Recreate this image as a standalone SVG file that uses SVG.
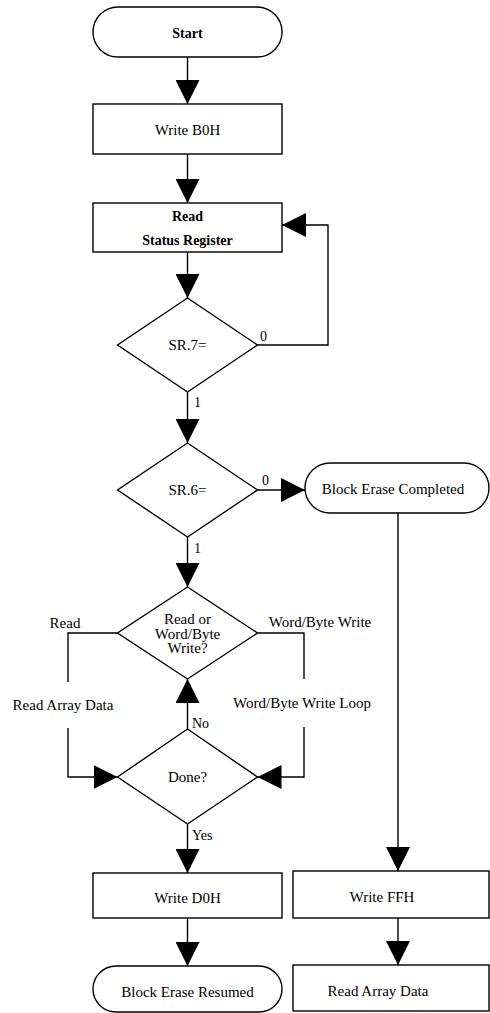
<svg xmlns="http://www.w3.org/2000/svg" width="490" height="1013" viewBox="0 0 490 1013">
<defs>
<style>
.s{fill:#fff;stroke:#000;stroke-width:1.4}
.c{fill:none;stroke:#000;stroke-width:1.4}
text{font-family:"Liberation Serif","Times New Roman",serif;font-size:15px;fill:#000;text-anchor:middle;dominant-baseline:central}
.b{font-weight:bold;font-size:14px}
.l{text-anchor:start;font-size:14px}
</style>
<marker id="ah" viewBox="0 0 24 24" markerWidth="24" markerHeight="24" markerUnits="userSpaceOnUse" refX="24" refY="12" orient="auto">
<path d="M0,0 L24,12 L0,24 Z" fill="#000"/>
</marker>
</defs>
<rect width="490" height="1013" fill="#fff"/>
<g id="connectors">
<line class="c" x1="187.5" y1="57" x2="187.5" y2="104" marker-end="url(#ah)"/>
<line class="c" x1="187.5" y1="154" x2="187.5" y2="203" marker-end="url(#ah)"/>
<line class="c" x1="187.5" y1="252" x2="187.5" y2="298" marker-end="url(#ah)"/>
<polyline class="c" points="257.5,345 328,345 328,225 282,225" marker-end="url(#ah)"/>
<line class="c" x1="187.5" y1="392" x2="187.5" y2="443" marker-end="url(#ah)"/>
<line class="c" x1="257.5" y1="490" x2="305" y2="490" marker-end="url(#ah)"/>
<line class="c" x1="187.5" y1="537" x2="187.5" y2="587" marker-end="url(#ah)"/>
<polyline class="c" points="117.5,633 68,633 68,682"/>
<polyline class="c" points="68,728 68,777 117.5,777" marker-end="url(#ah)"/>
<polyline class="c" points="257.5,633 304,633 304,679"/>
<polyline class="c" points="304,727 304,777 257.5,777" marker-end="url(#ah)"/>
<line class="c" x1="187.5" y1="729" x2="187.5" y2="679" marker-end="url(#ah)"/>
<line class="c" x1="187.5" y1="824" x2="187.5" y2="873" marker-end="url(#ah)"/>
<line class="c" x1="187.5" y1="918" x2="187.5" y2="966" marker-end="url(#ah)"/>
<line class="c" x1="398" y1="513" x2="398" y2="871" marker-end="url(#ah)"/>
<line class="c" x1="398" y1="918" x2="398" y2="965" marker-end="url(#ah)"/>
<text class="l" x="260" y="336">0</text>
<text class="l" x="194" y="402">1</text>
<text class="l" x="262" y="480">0</text>
<text class="l" x="194" y="548">1</text>
<text x="65" y="623">Read</text>
<text x="63" y="705">Read Array Data</text>
<text x="320" y="622">Word/Byte Write</text>
<text x="302" y="703">Word/Byte Write Loop</text>
<text class="l" x="192" y="723">No</text>
<text class="l" x="192" y="835">Yes</text>
</g>
<g id="start"><rect class="s" x="93" y="7" width="189" height="50" rx="25"/><text class="b" x="187.5" y="33">Start</text></g>
<g id="writeB0H"><rect class="s" x="93" y="104" width="189" height="50"/><text x="187.5" y="130">Write B0H</text></g>
<g id="readSR"><rect class="s" x="93" y="203" width="189" height="49"/><text class="b" x="187.5" y="216">Read</text><text class="b" x="187.5" y="240">Status Register</text></g>
<g id="sr7"><polygon class="s" points="187.5,298 257.5,345 187.5,392 117.5,345"/><text x="187.5" y="345">SR.7=</text></g>
<g id="sr6"><polygon class="s" points="187.5,443 257.5,490 187.5,537 117.5,490"/><text x="187.5" y="490">SR.6=</text></g>
<g id="blockEraseCompleted"><rect class="s" x="305" y="463" width="184" height="50" rx="25"/><text x="393" y="489">Block Erase Completed</text></g>
<g id="readOrWrite"><polygon class="s" points="187.5,587 257.5,633 187.5,679 117.5,633"/><text x="187.5" y="619">Read or</text><text x="187.5" y="634">Word/Byte</text><text x="187.5" y="648">Write?</text></g>
<g id="done"><polygon class="s" points="187.5,729 257.5,777 187.5,824 117.5,777"/><text x="187.5" y="777">Done?</text></g>
<g id="writeD0H"><rect class="s" x="93" y="873" width="189" height="45"/><text x="187.5" y="898">Write D0H</text></g>
<g id="blockEraseResumed"><rect class="s" x="93" y="966" width="189" height="46" rx="23"/><text x="187.5" y="992">Block Erase Resumed</text></g>
<g id="writeFFH"><rect class="s" x="293" y="871" width="196" height="47"/><text x="382" y="897">Write FFH</text></g>
<g id="readArrayData"><rect class="s" x="293" y="965" width="196" height="46"/><text x="378" y="991">Read Array Data</text></g>
</svg>
